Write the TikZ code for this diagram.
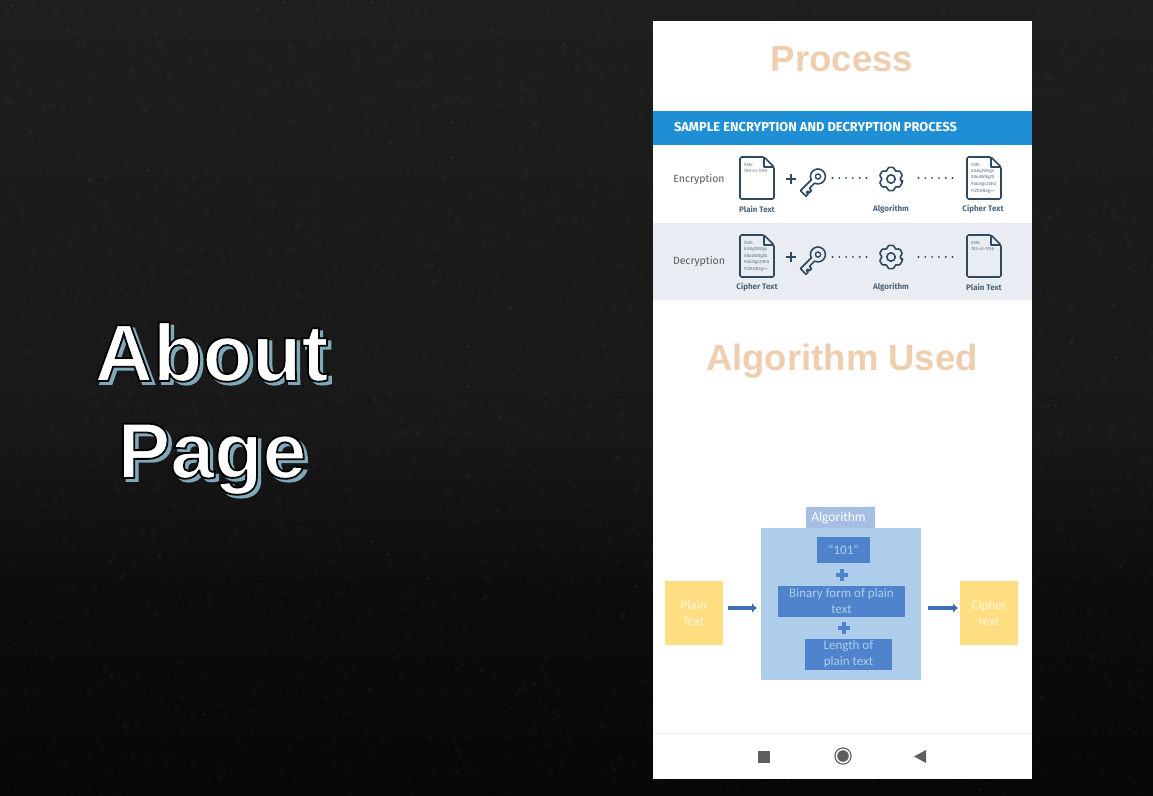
\documentclass[tikz,border=0pt]{standalone}
\usepackage{fontspec}
\setmainfont{Fira Sans}
\newfontfamily\aboutfont{Liberation Sans}[UprightFont=* Bold]
\newfontfamily\aboutline{Liberation Sans Bold}[FakeBold=2.0]
\newfontfamily\titlefont{Liberation Sans}[UprightFont=* Bold]
\newfontfamily\boxfont{Carlito}
\usetikzlibrary{calc,arrows.meta}
\definecolor{navy}{HTML}{2F4A60}
\definecolor{bar}{HTML}{1E8FD5}
\definecolor{rowgrey}{HTML}{E9EDF3}
\definecolor{peach}{HTML}{EFCDAF}
\definecolor{sandy}{HTML}{FFDE82}
\definecolor{lightblue}{HTML}{AECDEA}
\definecolor{tabblue}{HTML}{A5BEE3}
\definecolor{midblue}{HTML}{4F84CC}
\definecolor{arrowblue}{HTML}{3F6DB5}
\definecolor{boxtext}{HTML}{AFCDEE}
\definecolor{shadowteal}{HTML}{7FA9B8}
\definecolor{navgrey}{HTML}{5F5F5F}
\definecolor{bga}{HTML}{1E1E1E}
\definecolor{bgb}{HTML}{181818}
\definecolor{bgc}{HTML}{0C0C0C}
\definecolor{bgd}{HTML}{070707}
\newcommand{\outlined}[1]{\special{pdf:code 2 Tr 1.8 w 0 0 0 RG}#1\special{pdf:code 0 Tr}}
\tikzset{
  x=1pt,y=-1pt,
  flat/.style={inner sep=0pt,outer sep=0pt,align=center},
  rowlabel/.style={flat,font=\fontsize{10.5}{12}\selectfont,text=black!65},
  caption/.style={flat,font=\fontsize{8}{10}\selectfont\bfseries,text=navy!85},
  docline/.style={inner sep=0pt,anchor=west,font=\fontsize{4.4}{5}\selectfont,text=navy!80},
  icon/.style={draw=navy,line width=1.6pt,line join=round},
  title/.style={flat,anchor=base,font=\titlefont\fontsize{36.5}{40}\selectfont,text=peach},
  blockarrow/.style={-{Latex[length=5pt,width=10pt]},line width=4.8pt,draw=arrowblue},
  yellowbox/.style={flat,fill=sandy,minimum width=58pt,minimum height=64pt,text=white,text opacity=.75,font=\boxfont\fontsize{13}{15.8}\selectfont},
  innerbox/.style={flat,fill=midblue,text=boxtext,font=\boxfont\fontsize{13}{16}\selectfont},
  about/.style={inner sep=0pt,anchor=base,font=\aboutfont\fontsize{81}{81}\selectfont},
  aboutedge/.style={inner sep=0pt,anchor=base,font=\aboutline\fontsize{81}{81}\selectfont},
  pics/docsheet/.style={code={
    \draw[icon,rounded corners=1.5pt] (-17,-21) -- (7,-21) -- (17,-11) -- (17,21) -- (-17,21) -- cycle;
    \draw[icon] (7,-21) -- (7,-11) -- (17,-11);
  }},
  pics/keyicon/.style={code={
    \begin{scope}[rotate=225]
      \draw[icon] (7.17,2.4) arc[start angle=18,end angle=342,radius=7.5] -- (14.5,-2.4) -- (14.5,-5.4) -- (17.5,-5.4) -- (17.5,-3.2) -- (19.5,-3.2) -- (19.5,-5.4) -- (22.5,-5.4) -- (22.5,2.4) -- cycle;
      \draw[icon,line width=1.4pt] (0,0) circle[radius=2.6];
    \end{scope}
  }},
  pics/gearicon/.style={code={
    \draw[icon,rounded corners=1.2pt] (15:12) \foreach \a in {30,90,...,330}{ -- (\a-15:12) -- (\a+15:12) -- (\a+22:9.4) -- (\a+38:9.4) } -- cycle;
    \draw[icon] (0,0) circle[radius=4.2];
  }},
  pics/dotrow/.style={code={
    \foreach \i in {0,...,5}{\fill[navy] (\i*6.8,0) circle[radius=1.05];}
  }},
  pics/plustwo/.style={code={
    \fill[navy] (-4.8,-1.3) rectangle (4.8,1.3);
    \fill[navy] (-1.3,-4.8) rectangle (1.3,4.8);
  }},
  pics/blueplus/.style={code={
    \fill[midblue] (-5.6,-2.1) rectangle (5.6,2.1);
    \fill[midblue] (-2.1,-5.6) rectangle (2.1,5.6);
  }},
}
\begin{document}
\begin{tikzpicture}
\useasboundingbox (0,0) rectangle (1153,795);
% backdrop
\shade[top color=bga,bottom color=bgb] (0,0) rectangle (1153,430);
\shade[top color=bgb,bottom color=bgc] (0,430) rectangle (1153,600);
\shade[top color=bgc,bottom color=bgd] (0,600) rectangle (1153,795);
\pgfmathsetseed{4711}
\foreach \i in {1,...,2200}{
  \pgfmathsetmacro{\px}{random(0,1153)}
  \pgfmathsetmacro{\py}{random(0,795)}
  \fill[white,opacity=.018] (\px,\py) rectangle ++(4,3.5);
}
% title on the left
\node[aboutedge,text=shadowteal] (aboutshade) at (215,384) {About};
\node[about,text=white] (abouttext) at (211.5,381) {\outlined{About}};
\node[aboutedge,text=shadowteal,font=\aboutline\fontsize{79}{79}\selectfont] (pageshade) at (215.5,481) {Page};
\node[about,text=white,font=\aboutfont\fontsize{79}{79}\selectfont] (pagetext) at (212,478) {\outlined{Page}};
% phone screen
\fill[white] (653,21) rectangle (1032,779);
\node[title] (process) at (842,71.7) {Process};
\fill[bar] (653,111) rectangle (1032,145);
\node[flat,anchor=west,text=white,font=\fontsize{12.9}{14}\selectfont\fontseries{sb}\selectfont] (samplehead) at (674,127.5) {SAMPLE ENCRYPTION AND DECRYPTION PROCESS};
\fill[rowgrey] (653,223) rectangle (1032,300);
% encryption row
\node[rowlabel] (enc) at (699,180) {Encryption};
\pic at (757,178) {docsheet};
\node[docline] (e1a) at (744,164.5) {SSN:};
\node[docline] (e1b) at (744,171.5) {783-43-1016};
\pic at (791,179) {plustwo};
\pic at (818,176.5) {keyicon};
\pic at (832.5,178) {dotrow};
\pic at (891,179) {gearicon};
\pic at (918.5,178) {dotrow};
\pic at (984,178) {docsheet};
\node[docline] (e2a) at (971,164.5) {SSN:};
\node[docline] (e2b) at (971,171) {bG8yZW0gx};
\node[docline] (e2c) at (971,177.7) {X8odW0gZG};
\node[docline] (e2d) at (971,184.4) {9ob3Igc2l0IG};
\node[docline] (e2e) at (971,191) {FtZXQNCg==};
\node[caption] (c1) at (757,209.5) {Plain Text};
\node[caption] (c2) at (891,209.5) {Algorithm};
\node[caption] (c3) at (983,209.5) {Cipher Text};
% decryption row
\node[rowlabel] (dec) at (699,261.5) {Decryption};
\pic at (757,256) {docsheet};
\node[docline] (d1a) at (744,243) {SSN:};
\node[docline] (d1b) at (744,249.5) {bG8yZW0gx};
\node[docline] (d1c) at (744,256) {X8odW0gZG};
\node[docline] (d1d) at (744,262.7) {9ob3Igc2l0IG};
\node[docline] (d1e) at (744,269.3) {FtZXQNCg==};
\pic at (791,257) {plustwo};
\pic at (818,254.5) {keyicon};
\pic at (832.5,257) {dotrow};
\pic at (891,257) {gearicon};
\pic at (918.5,257) {dotrow};
\pic at (984,256) {docsheet};
\node[docline] (d2a) at (971,243) {SSN:};
\node[docline] (d2b) at (971,249.5) {783-43-1016};
\node[caption] (c4) at (757,287.5) {Cipher Text};
\node[caption] (c5) at (891,287.5) {Algorithm};
\node[caption] (c6) at (984,287.5) {Plain Text};
% algorithm section
\node[title] (algused) at (842,370) {Algorithm Used};
\node[flat,fill=lightblue,minimum width=160pt,minimum height=152pt] (algo) at (841,604) {};
\node[flat,fill=tabblue,minimum width=69pt,minimum height=21pt,text=white,font=\boxfont\fontsize{13.5}{15}\selectfont] (algotab) at (840.5,517.5) {\raisebox{-1.8pt}{Algorithm}\hspace{4pt}};
\node[innerbox,minimum width=53pt,minimum height=26pt] (b101) at (843.5,550) {\raisebox{-1pt}{“101”}};
\pic at (842,575) {blueplus};
\node[innerbox,minimum width=127pt,minimum height=31pt] (binary) at (841.5,601.5) {\raisebox{-.8pt}{Binary form of plain}\\\raisebox{-.8pt}{text}};
\pic at (844,628) {blueplus};
\node[innerbox,minimum width=87pt,minimum height=31pt] (lengthbox) at (848.5,654.5) {\raisebox{-1.5pt}{Length of}\\\raisebox{-1.5pt}{plain text}};
\node[yellowbox] (plain) at (693.5,613) {Plain\\Text};
\node[yellowbox] (cipher) at (989,613) {Cipher\\text};
\coordinate (arrowy) at (0,608);
\draw[blockarrow,shorten <=5pt,shorten >=4pt] (plain.east |- arrowy) -- (algo.west |- arrowy);
\draw[blockarrow,shorten <=7pt,shorten >=2pt] (algo.east |- arrowy) -- (cipher.west |- arrowy);
% navigation bar
\draw[black!6,line width=.8pt] (653,733.5) -- (1032,733.5);
\fill[navgrey] (758,751) rectangle (769.5,762.5);
\fill[navgrey] (843,756) circle[radius=8.7];
\fill[white] (843,756) circle[radius=7.4];
\fill[navgrey] (843,756) circle[radius=5.8];
\fill[navgrey] (926,750) -- (926,763) -- (914,756.5) -- cycle;
\end{tikzpicture}
\end{document}
